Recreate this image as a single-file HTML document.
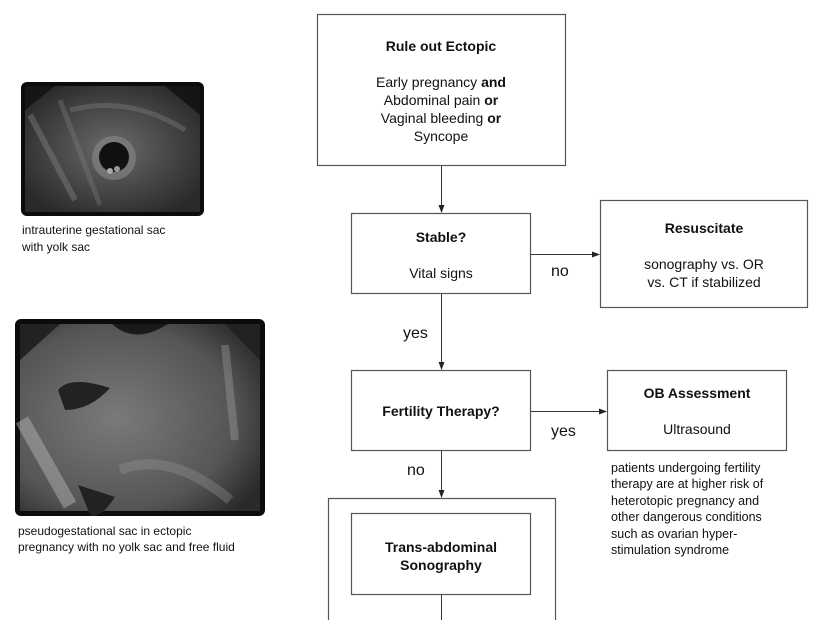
<!DOCTYPE html>
<html><head><meta charset="utf-8"><style>
body{margin:0;background:#fff;width:836px;height:620px;overflow:hidden}
svg text{font-family:"Liberation Sans",sans-serif;fill:#111}
</style></head><body>
<svg width="836" height="620" viewBox="0 0 836 620" xmlns="http://www.w3.org/2000/svg">
<defs>
<marker id="a" markerWidth="8" markerHeight="8" refX="7" refY="4" orient="auto" markerUnits="userSpaceOnUse"><path d="M0,1 L8,4 L0,7 z" fill="#222"/></marker>
<radialGradient id="g1" cx="0.5" cy="0.5" r="0.6"><stop offset="0" stop-color="#6a6a6a"/><stop offset="1" stop-color="#2a2a2a"/></radialGradient>
<radialGradient id="g2" cx="0.4" cy="0.5" r="0.7"><stop offset="0" stop-color="#7a7a7a"/><stop offset="0.7" stop-color="#555"/><stop offset="1" stop-color="#2a2a2a"/></radialGradient>
</defs>
<!-- image 1 -->
<rect x="21" y="82" width="183" height="134" rx="6" fill="#0c0c0c"/>
<rect x="25" y="86" width="175" height="126" fill="url(#g1)"/>
<path d="M30,115 L75,200" stroke="#888" stroke-width="6" opacity="0.4"/>
<path d="M60,100 L100,205" stroke="#888" stroke-width="5" opacity="0.3"/>
<path d="M70,110 Q130,95 185,130" stroke="#888" stroke-width="5" fill="none" opacity="0.35"/>
<polygon points="25,86 55,86 25,110" fill="#151515"/>
<polygon points="200,86 165,86 200,115" fill="#151515"/>
<circle cx="114" cy="158" r="22" fill="#888" opacity="0.6"/>
<circle cx="114" cy="157" r="15" fill="#111"/>
<circle cx="110" cy="171" r="3" fill="#aaa"/><circle cx="117" cy="169" r="3" fill="#999"/>
<text x="22" y="234" font-size="12">intrauterine gestational sac</text>
<text x="22" y="251" font-size="12">with yolk sac</text>
<!-- image 2 -->
<rect x="15" y="319" width="250" height="197" rx="6" fill="#0c0c0c"/>
<rect x="20" y="324" width="240" height="187" fill="url(#g2)"/>
<path d="M22,420 L70,505" stroke="#bbb" stroke-width="14" opacity="0.45"/>
<path d="M120,470 Q170,450 230,500" stroke="#999" stroke-width="10" fill="none" opacity="0.35"/>
<path d="M225,345 L235,440" stroke="#aaa" stroke-width="8" opacity="0.35"/>
<polygon points="20,324 60,324 20,360" fill="#222"/>
<polygon points="260,324 225,324 260,360" fill="#222"/>
<path d="M112,324 Q135,345 168,324 z" fill="#1a1a1a"/>
<path d="M58,390 Q70,375 110,388 Q90,410 65,410 z" fill="#222"/>
<path d="M78,485 L115,497 Q100,520 90,515 z" fill="#222"/>
<text x="18" y="535" font-size="12">pseudogestational sac in ectopic</text>
<text x="18" y="551" font-size="12">pregnancy with no yolk sac and free fluid</text>
<g fill="none" stroke="#555" stroke-width="1.2">
<rect x="317.5" y="14.5" width="248" height="151"/>
<rect x="351.5" y="213.5" width="179" height="80"/>
<rect x="600.5" y="200.5" width="207" height="107"/>
<rect x="351.5" y="370.5" width="179" height="80"/>
<rect x="607.5" y="370.5" width="179" height="80"/>
<path d="M328.5,625 V498.5 H555.5 V625"/>
<rect x="351.5" y="513.5" width="179" height="81"/>
</g>
<g stroke="#333" stroke-width="1" fill="none">
<line x1="441.5" y1="166" x2="441.5" y2="212" marker-end="url(#a)"/>
<line x1="531" y1="254.5" x2="599" y2="254.5" marker-end="url(#a)"/>
<line x1="441.5" y1="294" x2="441.5" y2="369" marker-end="url(#a)"/>
<line x1="531" y1="411.5" x2="606" y2="411.5" marker-end="url(#a)"/>
<line x1="441.5" y1="451" x2="441.5" y2="497" marker-end="url(#a)"/>
<line x1="441.5" y1="595" x2="441.5" y2="620"/>
</g>
<g text-anchor="middle" font-size="14">
<text x="441" y="51" font-weight="bold">Rule out Ectopic</text>
<text x="441" y="87">Early pregnancy <tspan font-weight="bold">and</tspan></text>
<text x="441" y="105">Abdominal pain <tspan font-weight="bold">or</tspan></text>
<text x="441" y="123">Vaginal bleeding <tspan font-weight="bold">or</tspan></text>
<text x="441" y="141">Syncope</text>
<text x="441" y="242" font-weight="bold">Stable?</text>
<text x="441" y="278">Vital signs</text>
<text x="704" y="233" font-weight="bold">Resuscitate</text>
<text x="704" y="269">sonography vs. OR</text>
<text x="704" y="287">vs. CT if stabilized</text>
<text x="441" y="416" font-weight="bold">Fertility Therapy?</text>
<text x="697" y="398" font-weight="bold">OB Assessment</text>
<text x="697" y="434">Ultrasound</text>
<text x="441" y="552" font-weight="bold">Trans-abdominal</text>
<text x="441" y="570" font-weight="bold">Sonography</text>
</g>
<g font-size="16">
<text x="551" y="276">no</text>
<text x="403" y="338">yes</text>
<text x="551" y="436">yes</text>
<text x="407" y="475">no</text>
</g>
<g font-size="12.5">
<text x="611" y="472">patients undergoing fertility</text>
<text x="611" y="488">therapy are at higher risk of</text>
<text x="611" y="505">heterotopic pregnancy and</text>
<text x="611" y="521">other dangerous conditions</text>
<text x="611" y="538">such as ovarian hyper-</text>
<text x="611" y="554">stimulation syndrome</text>
</g>
</svg>
</body></html>
